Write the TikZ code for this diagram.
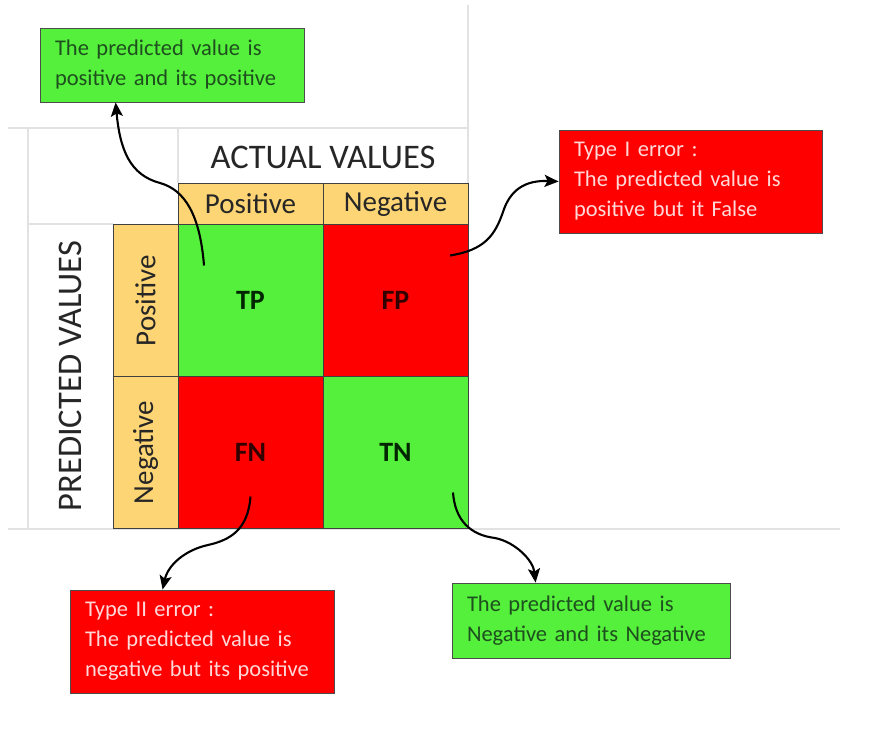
\documentclass[tikz,border=0pt]{standalone}
\usepackage{fontspec}
\setmainfont{Carlito}
\usetikzlibrary{arrows.meta}
\usetikzlibrary{positioning}

\definecolor{okgreen}{HTML}{55F03B}
\definecolor{errred}{HTML}{FF0000}
\definecolor{headorange}{HTML}{FDD574}
\definecolor{gridgray}{HTML}{E2E2E2}
\definecolor{greentext}{HTML}{1E4F1E}
\definecolor{redtext}{HTML}{FFD8D8}

\tikzset{
  cell/.style={draw=black!75, line width=0.8pt, outer sep=0pt, minimum width=145pt, minimum height=152pt, font=\fontsize{28}{30}\selectfont\bfseries},
  headcell/.style={draw=black!75, line width=0.8pt, outer sep=0pt, fill=headorange, text=black!85, font=\fontsize{29}{30}\selectfont},
  callout/.style={draw=black!70, line width=0.8pt, align=left, inner xsep=15pt, font=\fontsize{22.5}{30}\selectfont},
  pointer/.style={-{Stealth[length=14pt,width=12pt,inset=3pt]}, line width=2.1pt},
  gridline/.style={draw=gridgray, line width=1.2pt}
}

\begin{document}
\begin{tikzpicture}[x=1pt, y=-1pt]
        \useasboundingbox (0,0) rectangle (872,733);

        % sheet grid lines
        \draw[gridline] (8,128) -- (468,128);
        \draw[gridline] (468,5) -- (468,529);
        \draw[gridline] (8,529) -- (840,529);
        \draw[gridline] (28,128) -- (28,529);
        \draw[gridline] (178,128) -- (178,183);
        \draw[gridline] (28,224) -- (113,224);

        % matrix cells
        \node[cell, fill=okgreen, text=black!85!green] (tp) at (250.5,300.5) {TP};
        \node[cell, fill=errred, text=black!80!red, right=0pt of tp] (fp) {FP};
        \node[cell, fill=errred, text=black!80!red, below=0pt of tp] (fn) {FN};
        \node[cell, fill=okgreen, text=black!85!green, right=0pt of fn] (tn) {TN};

        \node[headcell, minimum width=145pt, minimum height=41pt, above=0pt of tp] (hpos) {Positive};
        \node[headcell, minimum width=145pt, minimum height=41pt, above=0pt of fp] (hneg) {Negative};
        \node[headcell, rotate=90, minimum width=152pt, minimum height=65pt] (vpos) at (145.5,300.5) {Positive};
        \node[headcell, rotate=90, minimum width=152pt, minimum height=65pt] (vneg) at (145.5,452.5) {Negative};

        \node[text=black!85, font=\fontsize{34.5}{36}\selectfont] (actual) at (323,157) {ACTUAL VALUES};
        \node[text=black!85, rotate=90, font=\fontsize{34.5}{36}\selectfont] (predicted) at (70,376) {PREDICTED VALUES};

        % callouts
        \node[callout, fill=okgreen, text=greentext, text width=234pt, minimum height=74pt] (boxtp) at (172,65) {The predicted value is\\positive and its positive};
        \node[callout, fill=errred, text=redtext, text width=233pt, minimum height=103pt] (boxfp) at (690.5,181.5) {Type I error :\\The predicted value is\\positive but it False};
        \node[callout, fill=errred, text=redtext, text width=234pt, minimum height=103pt] (boxfn) at (202,641.5) {Type II error :\\The predicted value is\\negative but its positive};
        \node[callout, fill=okgreen, text=greentext, text width=248pt, minimum height=75pt] (boxtn) at (591,620.5) {The predicted value is\\Negative and its Negative};

        \coordinate (tpfrom) at ([xshift=26pt,yshift=-41pt]tp.north west);
        \coordinate (fpfrom) at ([xshift=-18pt,yshift=-31pt]fp.north east);
        \coordinate (fnfrom) at ([yshift=32pt]fn.south);
        \coordinate (tnfrom) at ([xshift=-15pt,yshift=36pt]tn.south east);

        \draw[pointer] (tpfrom) .. controls (200,215) and (185,190) .. (160,183) .. controls (130,175) and (120,150) .. ([xshift=76pt]boxtp.south west);
        \draw[pointer] (fpfrom) .. controls (485,250) and (495,235) .. (503,212) .. controls (510,190) and (525,180) .. (boxfp.west);
        \draw[pointer] (fnfrom) .. controls (248,530) and (230,540) .. (208,545) .. controls (185,550) and (168,565) .. ([xshift=93pt]boxfn.north west);
        \draw[pointer] (tnfrom) .. controls (455,520) and (470,535) .. (495,538) .. controls (515,542) and (533,560) .. ([xshift=84pt]boxtn.north west);

    \end{tikzpicture}
\end{document}
